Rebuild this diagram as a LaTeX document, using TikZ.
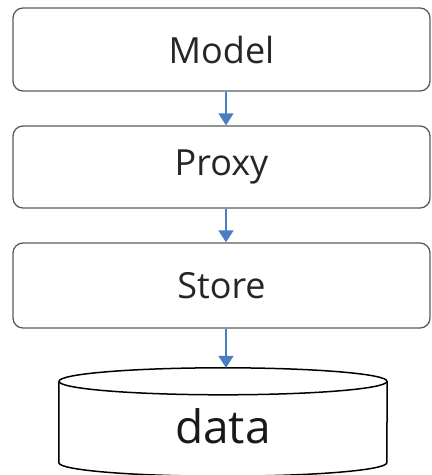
\documentclass[tikz,border=0pt]{standalone}
\usepackage{fontspec}
\setmainfont{Open Sans}
\usetikzlibrary{arrows.meta}
\definecolor{boxgray}{HTML}{5A5A5A}
\definecolor{flowblue}{HTML}{4A7EC2}
\tikzstyle{layer} = [rectangle, draw=boxgray, line width=1.3pt, rounded corners=10pt,
    minimum width=417pt, text=black!85, font=\fontsize{36}{42}\selectfont]
\tikzstyle{store} = [rectangle, draw=none, minimum width=328pt, minimum height=108pt,
    text=black!90, font=\fontsize{46}{52}\selectfont]
\tikzstyle{line} = [draw=flowblue, line width=1.6pt, -{Triangle[width=15pt,length=12pt]}]

\begin{document}
\begin{tikzpicture}[node distance = 118pt, auto]
\useasboundingbox (0,0) rectangle (432pt,-475pt);
\node [layer, minimum height=83pt] (model) at (221.5pt,-49.5pt) {Model};
\node [layer, minimum height=82pt, below of=model, node distance=117.5pt] (proxy) {Proxy};
\node [layer, minimum height=85pt, below of=proxy, node distance=118.5pt] (storebox) {Store};
\node [store, below of=storebox, node distance=136.5pt, xshift=1.5pt, inner sep=0pt, text depth=0pt] (data) {\raisebox{-8pt}{data}};
% cylinder for the data node
\draw [black, line width=1.5pt] ([yshift=-13.5pt]data.north west) -- ([yshift=13.5pt]data.south west)
    arc [start angle=180, end angle=360, x radius=164pt, y radius=13.5pt]
    -- ([yshift=-13.5pt]data.north east);
\draw [black, line width=1.5pt] ([yshift=-13.5pt]data.north) ellipse [x radius=164pt, y radius=13.5pt];
\path [line] ([xshift=4.5pt]model.south) -- ([xshift=4.5pt]proxy.north);
\path [line] ([xshift=4.5pt]proxy.south) -- ([xshift=4.5pt]storebox.north);
\path [line] ([xshift=4.5pt]storebox.south) -- ([xshift=3pt]data.north);
\end{tikzpicture}
\end{document}
